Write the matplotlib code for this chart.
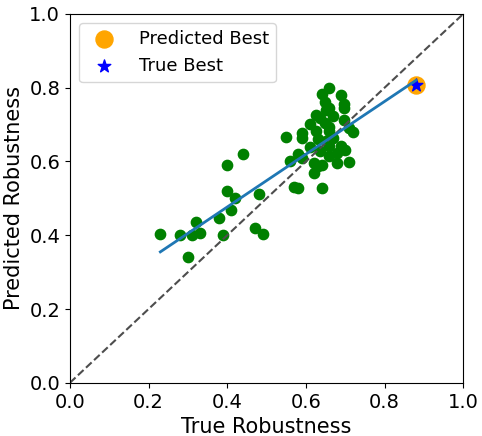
import numpy as np
import matplotlib
matplotlib.use('Agg')
import matplotlib.pyplot as plt

# valores
true_rob = [0.23, 0.28, 0.30, 0.31, 0.32, 0.33, 0.378, 0.39, 0.40, 0.40,
            0.41, 0.42, 0.44, 0.47, 0.48, 0.49, 0.55, 0.56, 0.57, 0.58,
            0.58, 0.59, 0.59, 0.59, 0.61, 0.61, 0.62, 0.62, 0.627, 0.63,
            0.63, 0.635, 0.64, 0.64, 0.64, 0.648, 0.652, 0.658, 0.658, 0.648,
            0.66, 0.66, 0.67, 0.66, 0.69, 0.698, 0.698, 0.698, 0.69, 0.70,
            0.68, 0.68, 0.71, 0.72, 0.71, 0.67, 0.65, 0.635, 0.66, 0.627]
pred_rob = [0.404, 0.40, 0.34, 0.40, 0.435, 0.405, 0.447, 0.40, 0.59, 0.52,
            0.468, 0.50, 0.62, 0.42, 0.513, 0.404, 0.667, 0.60, 0.53, 0.527,
            0.619, 0.676, 0.665, 0.61, 0.703, 0.64, 0.57, 0.596, 0.727, 0.66,
            0.587, 0.717, 0.783, 0.528, 0.59, 0.76, 0.74, 0.80, 0.693, 0.705,
            0.614, 0.641, 0.723, 0.745, 0.781, 0.757, 0.745, 0.712, 0.641, 0.63,
            0.623, 0.596, 0.598, 0.679, 0.69, 0.664, 0.655, 0.628, 0.682, 0.682]

best_true = 0.88
best_pred = 0.807

# recta de ajuste
fit_x = [0.23, 0.88]
fit_y = [0.355, 0.82]

fig = plt.figure(figsize=(4.82, 4.36), dpi=100)
ax = fig.add_subplot(111)
fig.subplots_adjust(left=0.145, right=0.961, top=0.968, bottom=0.122)

ax.plot([0, 1], [0, 1], '--', color='0.3')
ax.scatter(true_rob, pred_rob, color='green', s=55)
ax.plot(fit_x, fit_y, color='tab:blue', lw=2)
ax.scatter([best_true], [best_pred], color='orange', s=150, label='Predicted Best')
ax.scatter([best_true], [best_pred], color='blue', marker='*', s=90, label='True Best')

ax.set_xlim(0, 1)
ax.set_ylim(0, 1)
ax.set_xlabel('True Robustness', fontsize=15)
ax.set_ylabel('Predicted Robustness', fontsize=15)
ax.tick_params(labelsize=14)
ax.legend(fontsize=13, loc='upper left', handletextpad=0.9)

plt.savefig('out.png', dpi=100)
